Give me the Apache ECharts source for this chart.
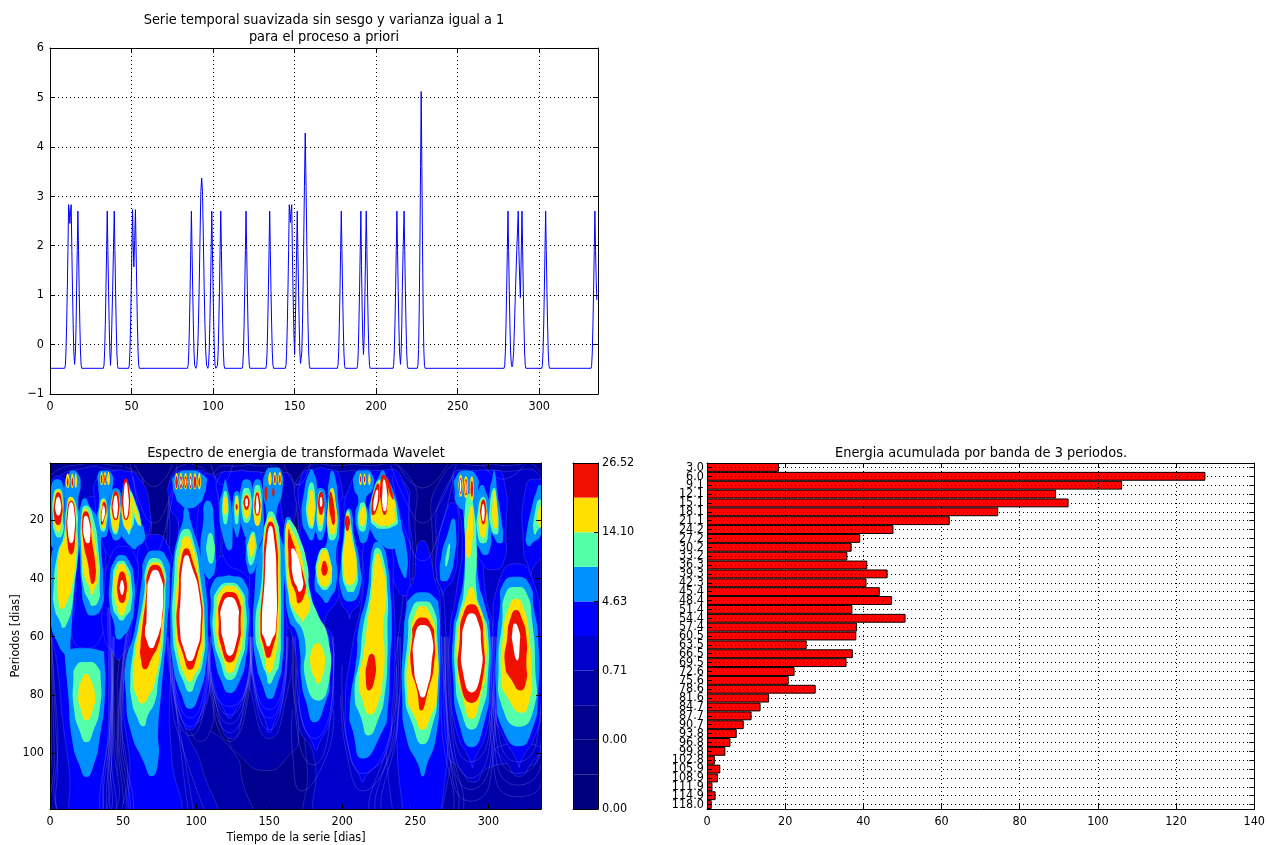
<!DOCTYPE html>
<html><head><meta charset="utf-8">
<style>html,body{margin:0;padding:0;background:#fff}#c{width:1268px;height:845px}</style>
<script src="https://cdn.jsdelivr.net/npm/echarts@6/dist/echarts.min.js"></script>
</head><body><div id="c"></div>
<script>
// ---- Serie temporal: [dia, valor]
const serieTemporal=[[0,-.48],[9,-.48],[9.4,-.42],[9.8,-.15],[10.2,.4],[10.6,1.1],[11,1.9],[11.4,2.83],[11.8,2.7],[12.2,2.45],[12.6,2.7],[13,2.83],[13.4,1.9],[13.8,1.1],[14.2,.4],[14.6,-.15],[15.1,-.4],[15.6,-.15],[16,.4],[16.3,1.1],[16.7,1.9],[17.1,2.7],[17.5,1.9],[17.9,1.1],[18.3,.4],[18.7,-.15],[19.1,-.42],[19.5,-.48],
[32.7,-.48],[33.1,-.42],[33.5,-.15],[33.9,.4],[34.3,1.1],[34.7,1.9],[35.1,2.7],[35.5,1.9],[35.9,1.1],[36.3,.4],[36.7,-.15],[37.1,-.42],[37.5,-.15],[37.9,.4],[38.4,1.1],[38.9,1.9],[39.4,2.7],[39.8,1.9],[40.2,1.1],[40.6,.4],[41,-.15],[41.4,-.42],[41.8,-.48],
[48.2,-.48],[48.6,-.42],[49,-.15],[49.4,.4],[49.8,1.1],[50.2,1.9],[50.6,2.73],[51,2.1],[51.4,1.57],[51.9,2.1],[52.4,2.73],[52.8,1.9],[53.2,1.1],[53.6,.4],[54,-.15],[54.4,-.42],[54.8,-.48],
[84.3,-.48],[84.7,-.42],[85.1,-.15],[85.5,.4],[85.9,1.1],[86.3,1.9],[86.7,2.7],[87.1,1.9],[87.5,1.1],[87.9,.4],[88.3,-.15],[88.7,-.42],[89.4,-.48],[90,-.42],[90.5,-.15],[91,.4],[91.5,1.2],[92,2.2],[92.5,3.1],[93,3.37],[93.5,3.1],[94,2.2],[94.5,1.2],[95,.4],[95.5,-.15],[96,-.42],[96.8,-.48],[97.2,-.42],[97.6,-.15],[98,.4],[98.4,1.1],[98.8,1.9],[99.2,2.7],[99.6,1.9],[100,1.1],[100.4,.4],[100.8,-.15],[101.2,-.42],[101.7,-.48],[102.3,-.48],[102.7,-.42],[103.1,-.15],[103.5,.4],[103.9,1.1],[104.3,1.9],[104.7,2.7],[105.1,1.9],[105.5,1.1],[105.9,.4],[106.3,-.15],[106.7,-.42],[107.1,-.48],
[117.8,-.48],[118.2,-.42],[118.6,-.15],[119,.4],[119.4,1.1],[119.8,1.9],[120.2,2.7],[120.6,1.9],[121,1.1],[121.4,.4],[121.8,-.15],[122.2,-.42],[122.6,-.48],
[132.3,-.48],[132.7,-.42],[133.1,-.15],[133.5,.4],[133.9,1.1],[134.3,1.9],[134.7,2.7],[135.1,1.9],[135.5,1.1],[135.9,.4],[136.3,-.15],[136.7,-.42],[137.1,-.48],
[144.3,-.48],[144.7,-.42],[145.1,-.15],[145.5,.4],[145.9,1.1],[146.3,1.9],[146.7,2.83],[147,2.7],[147.4,2.47],[147.8,2.7],[148.2,2.83],[148.6,1.9],[149,1.1],[149.5,.3],[150,-.2],[150.4,.4],[150.8,1.1],[151.2,1.9],[151.6,2.7],[152,1.9],[152.4,1.1],[152.8,.4],[153.2,-.15],[153.6,-.38],[154,-.4],[154.4,-.15],[154.8,.4],[155.2,1.2],[155.6,2.2],[156,3.2],[156.5,4.28],[157,3.2],[157.4,2.2],[157.8,1.2],[158.2,.4],[158.6,-.15],[159,-.42],[159.4,-.48],
[176.2,-.48],[176.6,-.42],[177,-.15],[177.4,.4],[177.8,1.1],[178.2,1.9],[178.6,2.7],[179,1.9],[179.4,1.1],[179.8,.4],[180.2,-.15],[180.6,-.42],[181,-.48],
[188.2,-.48],[188.6,-.42],[189,-.15],[189.4,.4],[189.8,1.1],[190.2,1.9],[190.6,2.7],[191,1.6],[191.4,.7],[191.8,.1],[192.2,-.2],[192.6,.1],[193,.8],[193.5,1.9],[193.9,2.7],[194.3,1.9],[194.7,1.1],[195.1,.4],[195.5,-.15],[195.9,-.42],[196.3,-.48],
[210.3,-.48],[210.7,-.42],[211.1,-.15],[211.5,.4],[211.9,1.1],[212.3,1.9],[212.7,2.7],[213.1,1.9],[213.5,1.1],[213.9,.4],[214.3,-.15],[214.9,-.4],[215.3,-.15],[215.7,.4],[216,1.1],[216.5,1.9],[217.1,2.7],[217.5,1.9],[217.9,1.1],[218.3,.4],[218.7,-.15],[219.1,-.42],[219.5,-.48],
[225.2,-.48],[225.6,-.42],[226,-.1],[226.4,.7],[226.8,2],[227.2,3.6],[227.6,5.12],[228,3.6],[228.4,2],[228.8,.7],[229.2,-.1],[229.6,-.42],[230,-.48],
[278.4,-.48],[278.8,-.42],[279.2,-.15],[279.6,.4],[280,1.1],[280.4,1.9],[280.8,2.7],[281.2,1.9],[281.6,1.1],[282,.4],[282.4,-.15],[282.9,-.4],[283.3,-.45],[283.7,-.4],[284.3,-.15],[284.8,.4],[285.4,1.1],[286.2,1.9],[287.1,2.7],[287.5,1.9],[288,1.3],[288.4,.95],[288.8,1.6],[289.4,2.7],[289.8,1.9],[290.2,1.1],[290.6,.4],[291,-.15],[291.4,-.42],[291.8,-.48],
[301.5,-.48],[301.9,-.42],[302.3,-.15],[302.7,.4],[303.1,1.1],[303.5,1.9],[303.9,2.7],[304.3,1.9],[304.7,1.1],[305.1,.4],[305.5,-.15],[305.9,-.42],[306.3,-.48],
[331.7,-.48],[332.1,-.42],[332.5,-.15],[332.9,.4],[333.3,1.1],[333.7,1.9],[334.1,2.7],[334.5,1.9],[334.9,1.3],[335.3,.9]];
// ---- Energia acumulada
const periodos=['3.0','6.0','9.1','12.1','15.1','18.1','21.1','24.2','27.2','30.2','33.2','36.3','39.3','42.3','45.4','48.4','51.4','54.4','57.4','60.5','63.5','66.5','69.5','72.6','75.6','78.6','81.6','84.7','87.7','90.7','93.8','96.8','99.8','102.8','105.9','108.9','111.9','114.9','118.0'];
const energia=[18.4,127.5,106.2,89.3,92.5,74.5,62.1,47.7,39.2,37.0,35.9,41.0,46.2,40.8,44.2,47.3,37.2,50.8,38.4,38.2,25.5,37.3,35.7,22.4,20.9,27.8,15.9,13.7,11.4,9.4,7.6,6.0,4.7,2.0,3.4,2.8,1.4,2.2,1.2];
// ---- Colorbar
const coloresBanda=['#00007f','#000084','#00008e','#0000a8','#0000cc','#0000ff','#0090ff','#55ffaa','#ffe000','#f01000'];
const etiquetasBarra=['0.00','0.00','0.71','4.63','14.10','26.52'];
const bandaOscura=[ // indice 3
[[1,20,40],[4,2,60],[8,0,64],[30,0,66],[36,0,45],[60,0,43],[90,0,44],[125,0,44]],
[[28,70,70],[30,50,86],[50,53,88],[70,47,90],[85,46,97],[100,46,126],[108,46,131],[125,47,134]],
[[1,92,98],[4,84,108],[10,82,110],[25,80,112],[45,80,112],[85,85,112],[92,95,110],[96,103,103]],
[[1,135,137],[4,112,160],[20,110,166],[50,108,166],[75,112,166],[95,122,170],[100,128,165],[106,148,148]],
[[1,205,210],[4,172,244],[25,170,250],[45,170,250],[80,172,240],[105,176,232],[125,180,232]],
[[35,255,255],[40,240,272],[125,232,270]],
[[1,300,305],[4,270,336],[30,262,336],[125,272,336]]];
const bandaMedia=[ // indice 4
[[2,25,35],[6,4,58],[12,1,62],[30,0,62],[38,0,42],[60,1,42],[90,5,43],[125,10,41]],
[[29,70,70],[32,54,84],[50,56,86],[70,50,87],[90,49,92],[105,53,104],[125,56,110]],
[[5,96,96],[10,84,108],[25,82,110],[50,80,112],[70,84,110],[85,88,106],[90,97,97]],
[[3,130,132],[6,112,150],[20,110,150],[38,108,140],[60,106,140],[80,112,134],[95,124,124]],
[[3,152,154],[6,140,166],[30,136,166],[60,134,166],[80,138,162],[95,150,150]],
[[3,205,207],[6,172,240],[20,170,246],[40,172,248],[60,170,242],[90,170,240],[100,180,236],[125,188,238]],
[[40,255,255],[45,242,270],[125,236,266]],
[[3,300,306],[6,274,336],[35,264,336],[50,270,336],[100,272,336],[105,280,300],[110,290,290]],
[[98,306,336],[103,312,330],[108,321,321]]];
const bandaAzul=[ // indice 5
[[5,4,6],[8,0,14],[30,0,21],[55,0,40],[70,5,42],[90,9,41],[105,13,37],[125,17,32]],
[[12,30,30],[14,24,36],[30,19,38],[50,17,37],[60,15,35],[64,25,25]],
[[3,45,50],[5,33,60],[15,31,68],[28,36,66],[34,43,60],[37,50,50]],
[[29,50,50],[32,42,58],[45,37,62],[60,37,58],[66,44,50],[68,47,47]],
[[25,71,71],[28,62,80],[40,60,84],[60,55,85],[80,50,82],[100,54,83],[125,60,87]],
[[3,96,96],[5,84,108],[15,82,110],[22,88,104],[40,81,110],[60,80,112],[75,83,110],[88,90,102],[92,96,96]],
[[4,108,108],[8,103,114],[40,102,115],[44,108,108]],
[[32,123,123],[36,112,134],[50,107,138],[65,109,138],[78,113,134],[86,120,126],[88,123,123]],
[[3,130,132],[5,116,146],[15,116,148],[24,118,148],[34,120,146],[38,132,144],[40,138,138]],
[[3,152,153],[8,147,158],[15,142,158],[30,138,163],[60,137,162],[80,141,160],[90,148,153],[93,150,150]],
[[2,185,186],[5,172,198],[25,171,198],[45,162,198],[55,162,188],[60,166,193],[75,170,194],[88,172,192],[97,180,184],[99,182,182]],
[[12,205,205],[14,198,214],[35,197,214],[48,199,212],[52,204,206],[54,205,205]],
[[3,224,224],[5,208,240],[25,206,246],[38,232,246],[44,238,246],[46,243,243]],
[[23,224,224],[25,216,232],[45,214,235],[66,206,236],[85,202,234],[100,205,230],[108,212,216],[110,214,214]],
[[27,255,255],[30,251,259],[37,250,262],[40,249,263],[47,244,267],[125,243,266]],
[[14,276,276],[16,272,279],[30,265,279],[40,265,276],[44,268,270],[46,269,269]],
[[3,285,285],[5,276,294],[25,282,296],[45,278,298],[57,274,303],[75,274,303],[92,278,299],[103,288,290],[105,289,289]],
[[3,302,302],[5,290,310],[25,289,312],[35,296,310],[37,303,303]],
[[35,319,319],[40,308,330],[60,303,336],[85,304,336],[94,310,332],[103,320,322],[105,321,321]],
[[6,333,333],[8,326,338],[30,324,338],[37,328,330],[39,329,329]]];
const lineasContorno=[
[[60,108.5,137],[78,112,134],[84,123,123]],[[60,108,137.5],[80,113,133],[87,123,123]],[[60,107.5,138],[82,113,133],[90,123,123]],[[60,107,138.5],[85,113,133],[93,123,123]],[[60,106.5,139],[88,113,133],[96,123,123]],
[[60,137,162],[80,142,158],[85,150,150]],[[60,136.5,162.5],[82,142,158],[88,150,150]],[[60,136,163],[85,142,158],[92,150,150]],
[[60,81,109.5],[82,88,104],[88,96,96]],[[60,80.5,110],[85,88,104],[91,96,96]],[[60,80,110.5],[88,88,104],[94,96,96]],
[[60,168,193],[85,171,192],[95,181,181]],[[60,167,194],[95,170,190],[104,180,180]],[[85,166,194],[100,166,190],[113,172,172]],
[[80,199,238],[100,203,233],[113,214,214]],[[70,200,237],[95,203,232],[107,214,214]],
[[60,273,303],[95,277,300],[103,288,288]],[[60,272,304],[100,277,300],[108.5,288,288]],[[60,271,305],[104,276,301],[112.5,288,288]],[[60,270,305.5],[110,276,301],[116.5,288,288]],
[[60,303,336],[96,308,333],[103,320,320]],[[60,302.5,337],[100,307,335],[107,320,320]],[[60,302,338],[104,306,336],[111,320,320]],[[60,301.5,338],[109,305,337],[115,320,320]],
[[50,39,57],[90,40,49],[125,36,56]],[[50,40,56],[90,41,48],[125,38,54]],[[50,40.5,55.5],[90,42,47],[125,40,52]],[[50,41,55],[90,43,46.5],[125,42,50]],
[[40,85,85],[80,83,83],[100,92,92],[125,110,110]],[[40,86,86],[75,84,84],[95,90,90],[125,100,100]],[[40,87,87],[70,85,85],[92,88,88],[125,96,96]],
[[1,238,272],[9,255,255]],[[1,233,278],[15,245,266],[21,255,255]],[[5,234,276],[25,244,266],[34,255,255]],
[[1,58,84],[8.6,71,71]],[[1,55,87],[15,62,80],[21,71,71]],[[5,57,86],[25,64,78],[32,71,71]],
[[60,1,43],[100,5,40],[125,9,34]],[[60,.5,43.5],[100,3,41],[125,5,37]],[[60,0,44],[100,1,42],[125,2,40]],
[[60,240,268],[90,238,268],[125,230,272]],[[60,239,269],[90,236,270],[125,226,275]],[[60,238,270],[90,234,272],[125,222,278]],
[[1,110,125],[8,118,118]],[[1,160,178],[8,170,170]],[[1,296,325],[6,310,310]]];
const bandaCeleste=[ // indice 6
[[6,5,5],[8,1,9],[15,.5,10],[28,.5,10],[30,5,5]],
[[3,15,15],[4,13,19],[8,10,21],[13,10.3,19.4],[20,9.6,20.5],[26,6,21],[32,1,19.4],[43,.5,17],[55,.5,15],[62,5,14],[66,10,13]],
[[64,22,22],[65,10,36],[66,10,37],[80,12.5,37.6],[95,15,34],[104,20,30],[108.2,25,25]],
[[12.5,24,24],[15,21,27],[20.5,20,33],[32,20.5,35.3],[43,21.7,36.5],[50,24,35.3],[52.8,28.5,28.5]],
[[32,49,49],[34,44,54],[40,41,57.5],[50,41,57.5],[56,44,55],[60,45,50],[61,47,47]],
[[3,37,37],[4,33,42],[8,33,43],[14,33.5,40],[20,32,40],[25,34,39],[26,36.5,36.5]],
[[9,45,45],[12,41,49],[20,40,49],[25,42,49],[27,45,45]],
[[7,52,52],[12,49,57],[20,48,62],[25,49,65],[27.5,52,64],[29,55,60],[30,58,58]],
[[30.5,72,72],[33,65,80],[40,63,82],[57.7,58,80],[69,52,78],[80,52,76],[92,55,74],[103,64,74],[108,69.5,69.5]],
[[3,95,95],[5,85,106],[8,84,107],[12,86,105],[14,88,103],[16,95,95]],
[[16,92,94],[20,91,96],[25,88,99],[32,85,103],[45,83,107],[57.7,82.5,108],[69,84,107],[80,90,102],[84.8,95.8,95.8]],
[[39,122,123],[41,112,133],[50,110,136],[57.7,110,136],[68,113,134],[75,117,130],[79.4,123,123]],
[[14,106,110],[20,105,112],[30,103,113],[37,105,113],[40,108,110]],
[[6,119.7,120],[10,118,122],[15,116,124],[25,118,125],[30.5,123,123]],
[[10,127.7,127.7],[12,125.5,130],[20,125,130.5],[25,127,129],[26,128,128]],
[[6,134.5,134.5],[8,131,138],[18,130,139],[25,133,136],[26,134.5,134.5]],
[[23,139,139],[25,135,143],[30,134,143],[36,135,141],[38.5,137.5,137.5]],
[[6,142,142],[8,139,145],[15,138,146],[24,138,146],[28,140,144],[29,142,142]],
[[2,153,153],[3,148,158],[10,146,159],[18,148,155],[24,147,157],[32,142.5,160.7],[45,140,160],[57.7,139,160],[69,141,159],[76,145,156],[81.4,150.5,150.5]],
[[19,163,163],[20,161,165],[30,160,172],[44,161,178],[55,164,184],[57.7,168,189],[65,171,191.5],[75,172,191.6],[82,175,189],[89.4,181,181]],
[[3,178,180],[10,174,183],[20,172.5,182.5],[25,176,181],[27,179,179]],
[[9,185,185],[11,182,188.5],[20,181,189],[24,182,188],[27,185,185]],
[[3,193,193],[5,191.5,195],[12,190,197],[25,190,198],[30,188,196],[42,181,196],[47.5,187,191],[48.5,189,189]],
[[16.6,203,206],[25,201,208],[35,199,212],[44,199,212],[48,205,205]],
[[3,214,214],[4,209,220],[9,208,221],[13,211,216],[18,209,218],[25,211,218],[28,214,214]],
[[3,228,228],[5,225,230],[10,221,235],[20,218,240],[25,221,241],[28,226,240],[30,234,234]],
[[11,232,234],[20,233,239],[30,236,244],[39.5,242,244]],
[[27.5,224,224],[29,221,228],[35,219,231],[45,217,233],[57.7,211,234],[66,210,233],[86,205,231],[92,207,228],[101.9,214,214]],
[[44.8,255,255],[47,246,264],[50,244,266],[60,242,267],[80,241,266.5],[95,244,264],[104,252,258],[108,255,255]],
[[19.5,276,276],[25,272,278],[32,268,277],[40,267,273],[41,269,269]],
[[3,285,285],[5,278,292],[10,277,293],[15,279,292],[17,285,287]],
[[10,286,286],[14,283,290],[25,284,292],[40,283,293],[50,279,298],[57.7,276,301],[75,276,301],[90,280,297],[98,288.5,288.5]],
[[8,296,296],[10,293,298],[15,291,301],[25,291,302],[30,294,301],[32,298,298]],
[[3,304,304],[5,303,305],[10,301,306],[20,300,309],[27,305,310],[28,308,308]],
[[39.5,319,319],[42,310,328],[50,308,331],[60,306,334],[80,305.5,334],[92,310,330],[97.7,321,321]],
[[8,335,335],[10,333,338],[15,330,338],[25,326,336],[28,326,330],[29,328,328]]];
const bandaVerde=[ // indice 7
[[68.8,25,25],[70,18,32],[75,16,34.7],[85,16.5,34],[92,20,30],[96.3,25,25]],
[[9.3,5.6,5.6],[11,2.5,8.5],[20,2,9],[24,3,9],[26,6,6]],
[[12,14,14],[15,11.5,18],[25,9.5,19],[32,5,19],[43,2.5,16.5],[50,3,15],[55,7,12],[57,9,9]],
[[15,24.5,24.5],[18,21.5,29],[32,21.5,33.5],[43,23,34],[48,27,33],[49.5,29,29]],
[[34,49,49],[36,44.5,53],[40,43,55.5],[50,43,55.5],[53,46,52],[54.5,49,49]],
[[12.5,36.5,36.5],[15,34,39],[22,34,38.5],[24,36.5,36.5]],
[[10,45,45],[12,42.5,47.5],[20,41.5,47.5],[25,45,45]],
[[8.5,52,52],[12,50,56],[20,49.5,57.5],[24,53,55],[25,54,54]],
[[10,55,55],[16,56,60],[20,58.5,62],[22,61.5,61.5]],
[[33,71.5,71.5],[36,66,78],[45,64.5,79],[57.7,60,78],[65,57,77],[75,55,74],[82,56,72],[87,59,67],[90.8,64,64]],
[[23,93.5,93.5],[27,88,98],[40,85,103],[57.7,84,106],[69,87,104.5],[75,91,100],[79,95.8,95.8]],
[[41.5,123,123],[44,114.5,131],[50,112,134],[60,112,134],[68,116,131],[75,123,123]],
[[24.5,109.8,109.8],[27,107.5,112],[32,107.5,112.5],[35,110.2,110.2]],
[[24,139,139],[27,136,141],[31,135,141],[35.5,137.5,137.5]],
[[10,120,120],[14,118,122],[20,118.5,121.5],[21.5,120,120]],
[[11.5,127.7,127.7],[12.5,126.5,129],[20,126.5,129],[21.5,127.7,127.7]],
[[9,134.5,134.5],[10,132,137],[18,131.5,137.5],[21,134.5,134.5]],
[[8,142,142],[9,140,144],[18,139.5,144.5],[22,142,142]],
[[17,151,151],[20,148,155],[25,146,157],[40,145,158],[57.7,140.5,158],[69,145,157],[73,148,154],[76.2,150,150]],
[[20,163,163],[21,162,166],[25,161,170],[35,161,176],[45,163,178],[52,166,183],[60,174,190],[75,175,191],[82,183.6,183.6]],
[[29.5,187.8,187.8],[33,183,191.5],[40,182.5,193],[43,185,191],[44,188,188]],
[[16.6,204,204],[25,201.5,207],[38,200,210.5],[44,203,208.5],[44.7,205,205]],
[[7,179,179],[12,176,181.5],[20,176,181],[23,179,179]],
[[10,185,185],[15,183,187.5],[22,183,187],[24,185,185]],
[[9,193,193],[14,190.5,195.5],[24,190,196.5],[27,193,193]],
[[14,214,214],[15,212,216],[22,211,216.5],[24,214,214]],
[[6,227.5,227.5],[9,222,233],[20,219.5,238],[22,222,236],[23,226,226]],
[[29.5,224,224],[33,221,228],[45,219,231],[57.7,214,231],[66,212.5,231],[80,208.5,229],[88,213,225],[94,217.8,217.8]],
[[48,255,255],[50,248,262],[60,245,265],[80,243,265],[90,248,262],[97,255,255]],
[[28,273.5,273.5],[31,271.5,273.5],[35,270.5,272],[36,271,271]],
[[11,287,287],[16,284,290],[30,284,292],[45,283,292],[52,280,296],[57.7,277.5,299.5],[75,277.5,299.5],[85,281,296],[92,288.5,288.5]],
[[12,296.5,296.5],[16,293,299],[26,293,299.5],[28,296.5,296.5]],
[[9,304,304],[15,301,306],[23,302,307],[25,305.5,305.5]],
[[43,319.5,319.5],[45,312,326],[55,309.5,330],[70,307,332],[85,310,331],[91,321,321]],
[[13,335,335],[20,331,338],[24,331,333],[25,332,332]]];
const bandaAmarilla=[ // indice 8
[[72.9,25,25],[75,21.5,28],[80,19.4,30.8],[84,20.5,30],[88.7,25,25]],
[[9.7,5.6,5.6],[12,3,8.2],[21,2.8,8],[24,5.8,5.8]],
[[12,14,14],[15,12,17],[25,10.5,18],[32,6,18],[43,5,15],[47,5.5,12.5],[50.5,8,8]],
[[16,24,24],[19,22,27],[32,22,32],[40,24,33],[43,27,31],[45.7,28.5,28.5]],
[[35,49,49],[38,45,53],[44,43.8,54.7],[50,46,52],[52.8,49,49]],
[[13,36.5,36.5],[16,34.5,38.5],[21,35,38],[23,36.5,36.5]],
[[10.5,45,45],[13,42.5,47.5],[20,42,47.5],[24,45,45]],
[[9,52,52],[12,50.5,55],[20,49.8,56.2],[23.5,53.5,53.5]],
[[11,55.5,55.5],[18,58,60],[22,62,62]],
[[34.5,72,72],[37,67,77],[45,65.5,78],[57.7,61,77],[65,58.5,75.5],[75,57,72],[80,59,68],[83,63,63]],
[[25.7,93.5,93.5],[28,90,97],[40,87,102],[57.7,86,105],[69,89,103],[73,92,99],[75.4,95.8,95.8]],
[[42.6,123,123],[45,116,130],[50,114,132],[60,114,132],[67,118,129],[72.5,123,123]],
[[25,139,139],[27,136.5,140],[30,136,140],[32.5,137.5,137.5]],
[[12,120,120],[14,118.5,121.5],[18.3,120,120]],
[[12,127.7,127.7],[14,126.6,129],[17,126.6,129],[18.5,127.7,127.7]],
[[11,134.5,134.5],[13,132.5,136.5],[17,132.5,136.5],[19.5,134.5,134.5]],
[[10,141.8,141.8],[13,139.8,144],[20,139.8,144],[22,141.8,141.8]],
[[19,151,151],[22,148,154],[30,146,156.5],[45,145.5,157],[57.7,143,156.5],[65,146,155],[72.5,150,150]],
[[21,163,163],[22,161.5,164],[30,161.5,171],[45,163.5,176],[50,166,178],[54,172,174],[55,173,173]],
[[62.3,183,183],[65,179,187],[70,178.3,188],[74,181,186],[76.2,183.6,183.6]],
[[9.7,179,179],[14,177,181],[20,177,180.5],[22,179,179]],
[[10.5,185,185],[13,183.5,187],[20,183.6,187],[22,185,185]],
[[9,193,193],[13,191,195],[22,190.5,196],[25,193,193]],
[[30.3,187.8,187.8],[34,184,191.5],[40,183.6,192],[42.9,187.8,187.8]],
[[17.2,203.5,203.5],[25,202,206],[38,201,209.8],[42.3,205,205]],
[[15.5,214,214],[16,213,215.5],[20,211.5,216],[22,213.5,213.5]],
[[6.5,227.5,227.5],[10,222.5,232],[19,220,236.5],[21,223,235],[22,228,228]],
[[6,230,230],[14,234,236],[16,236,236]],
[[31.5,224,224],[35,222,227],[45,220,230],[57.7,216.6,228],[66,214.5,229],[75,211.4,227.6],[82,214,225],[86.8,219,219]],
[[49.5,255,255],[52,250,260],[60,247,264],[80,244.5,265],[88,250,260],[92,255,255]],
[[15,288.5,288.5],[20,286,289.5],[30,284.5,288.5],[33,286.5,286.5]],
[[43,288.5,288.5],[48,284,292],[55,280,297],[70,278.5,298.5],[80,282,295],[88.3,288.5,288.5]],
[[13,296,296],[16,294,298.5],[24,294,298.5],[26,296.5,296.5]],
[[10,304,304],[13,303,305.5],[21,303,306],[23,305,305]],
[[47,319,319],[50,314,324],[60,310,328],[75,309,329.5],[80,312,329],[86.2,323,323]],
[[15,336,336],[20,333.5,338],[22,335,336],[23,336,336]],
[[3.8,86.6,86.6],[6,85.5,87.7],[8,85.5,87.7],[9.5,86.6,86.6]],[[3.8,89.6,89.6],[6,88.5,90.7],[8,88.5,90.7],[9.5,89.6,89.6]],[[3.8,92.8,92.8],[6,91.7,93.9],[8,91.7,93.9],[9.5,92.8,92.8]],[[3.8,96.2,96.2],[6,95.1,97.3],[8,95.1,97.3],[9.5,96.2,96.2]],[[3.8,99.2,99.2],[6,98.1,100.3],[8,98.1,100.3],[9.5,99.2,99.2]],[[3.8,102.2,102.2],[6,101.2,103.2],[8,101.2,103.2],[9.5,102.2,102.2]],
[[4,12.1,12.1],[5.5,11,13.2],[8,11,13.2],[9,12.1,12.1]],[[4,15.3,15.3],[5.5,14.4,16.2],[8,14.4,16.2],[9,15.3,15.3]],[[4,17.6,17.6],[5.5,17,18.4],[8,17,18.4],[9,17.6,17.6]],
[[3.5,35.3,35.3],[5,34.5,36.2],[7,34.5,36.2],[8,35.3,35.3]],[[3.5,37.6,37.6],[5,36.8,38.5],[7,36.8,38.5],[8,37.6,37.6]],[[3.5,40,40],[5,39.2,40.9],[7,39.2,40.9],[8,40,40]],
[[4,212.5,212.5],[5.5,211.6,213.4],[7,211.6,213.4],[8,212.5,212.5]],[[4,215.3,215.3],[5.5,214.4,216.2],[7,214.4,216.2],[8,215.3,215.3]],[[4,218.5,218.5],[5.5,217.8,219.3],[7,217.8,219.3],[8,218.5,218.5]],
[[3.5,150.5,150.5],[5,149.5,151.5],[7,149.5,151.5],[8,150.5,150.5]],[[3.5,153.9,153.9],[5,152.9,154.9],[7,152.9,154.9],[8,153.9,153.9]],[[3.5,157.3,157.3],[5,156.3,158.3],[7,156.3,158.3],[8,157.3,157.3]],
[[4.5,281,281],[6,279.8,282.2],[10,279.8,282.2],[12,281,281]],[[5,284.6,284.6],[6.5,283.4,285.8],[11,283.4,285.8],[12.5,284.6,284.6]],[[5,288.7,288.7],[7,287.6,289.8],[12,287.6,289.8],[13.5,288.7,288.7]]];
const bandaRoja=[ // indice 9
[[10.5,5.6,5.6],[13,3.3,8],[20,3.2,7.8],[21.7,5.6,5.6]],
[[13.4,14.5,14.5],[16,12,17],[28,12,17],[31.8,14.5,14.5]],
[[17,24.5,24.5],[19,22.2,27],[28,23,29],[35,26,31],[40,27.5,31],[42,29,29]],
[[37.7,49.3,49.3],[40,46.8,52],[46,46.5,52],[48.5,49.3,49.3]],
[[13.7,37,37],[16,35.5,38.7],[20,34.8,37],[21.7,35.5,35.5]],
[[10,45,45],[12,43,47],[18,42.7,47],[20,45,45]],
[[5.7,52,52],[9,50,54],[17,49.8,54.3],[20,52,52]],
[[35.4,72,72],[38,67,77],[45,66,78],[57.7,63,76],[63,62,74],[67,62,70],[71.2,65,65]],
[[29.7,93.5,93.5],[33,90,97],[45,88,103],[57.7,87,104],[66,91,101],[71.4,95.8,95.8]],
[[44.7,123,123],[47,117,129],[55,115.5,130.5],[63,117,129],[68.9,123,123]],
[[20.5,151,151],[25,147.5,154.5],[40,146,156],[57.7,144,155],[63,146,153],[67.4,149.3,149.3]],
[[23,163.5,163.5],[25,163,164.5],[30,163,168],[40,164.5,174],[45,168,174.5],[48.6,170,170]],
[[10.3,185.4,185.4],[12.5,183.7,187.3],[16,183.7,187.3],[18.3,185.4,185.4]],
[[10.3,192,192],[14,191,194],[20,192.5,195],[21.7,194,194]],
[[18.5,203.5,203.5],[20,201.8,205.2],[22,202,205],[23.8,203.5,203.5]],
[[34,187.7,187.7],[36,186,189.7],[38,186,189.7],[39.1,187.7,187.7]],
[[7.5,224.5,224.5],[10,222,225.5],[15,220,224.5],[18.3,221,221]],
[[4.5,228,228],[8,226,231],[14,226.5,231],[18.3,229,229]],
[[5,230.5,230.5],[10,232,234],[13,235,235]],
[[65.9,220,220],[68,217.5,222.5],[75,216.2,222],[78.5,218.2,218.2]],
[[53.5,255,255],[56,249,261],[60,248,263],[70,247,262.7],[78,251,259],[85.4,254,254]],
[[48.9,288.5,288.5],[52,283,294],[60,280.5,296.5],[75,280.5,296],[82.8,288.5,288.5]],
[[50.9,319,319],[54,315,323],[60,313,326],[70,311.5,326],[75,316,326],[78.5,322,322]],
[[5.5,281,281],[7,280.2,281.8],[10,280.2,281.8],[11,281,281]],[[6,284.6,284.6],[7.5,283.8,285.4],[10.5,283.8,285.4],[11.5,284.6,284.6]],[[6.5,288.7,288.7],[8,288,289.4],[11,288,289.4],[12,288.7,288.7]],
[[13,296.5,296.5],[15,294.8,298.2],[19,294.8,298.2],[21.5,296.5,296.5]],
[[11.5,134.5,134.5],[13,132.7,136.3],[15,132.7,136.3],[16.6,134.5,134.5]],
[[10.5,141.8,141.8],[13,140.2,143.6],[17,140.2,143.6],[18.5,141.8,141.8]],
[[14.5,127.7,127.7],[15.5,127,128.4],[16.5,127.7,127.7]],
[[8.6,147.7,147.7],[10,146.8,148.7],[13.7,147.7,147.7]],
[[9,152.8,152.8],[10.5,152,153.6],[12,152.8,152.8]],
[[5,86.6,86.6],[6,85.9,87.3],[8,85.9,87.3],[9,86.6,86.6]],[[5,89.6,89.6],[6,88.9,90.3],[8,88.9,90.3],[9,89.6,89.6]],[[5,92.8,92.8],[6,92.1,93.5],[8,92.1,93.5],[9,92.8,92.8]],[[5,96.2,96.2],[6,95.5,96.9],[8,95.5,96.9],[9,96.2,96.2]],[[5,99.2,99.2],[6,98.5,99.9],[8,98.5,99.9],[9,99.2,99.2]],[[5.5,102.2,102.2],[6.5,101.7,102.7],[7.5,101.7,102.7],[8.5,102.2,102.2]],
[[5.5,12.1,12.1],[6.5,11.6,12.6],[7.5,11.6,12.6],[8.5,12.1,12.1]],[[5.5,15.3,15.3],[6.5,14.8,15.8],[7.5,14.8,15.8],[8.5,15.3,15.3]],
[[4.5,35.3,35.3],[5.5,34.9,35.8],[6.5,34.9,35.8],[7.5,35.3,35.3]],[[4.5,37.6,37.6],[5.5,37.2,38.1],[6.5,37.2,38.1],[7.5,37.6,37.6]],
[[4.5,153.9,153.9],[5.5,153.4,154.4],[6.5,153.4,154.4],[7.5,153.9,153.9]],[[4.5,157.3,157.3],[5.5,156.8,157.8],[6.5,156.8,157.8],[7.5,157.3,157.3]],
[[5,212.5,212.5],[6,212,213],[7,212.5,212.5]],[[5,215.3,215.3],[6,214.8,215.8],[7,215.3,215.3]]];
const bandaBlanca=[ // sobre el maximo
[[12,5.6,5.6],[14,3.9,7.3],[17,3.9,7.3],[18.5,5.6,5.6]],
[[13.8,14.5,14.5],[17,12.5,16.6],[25,12.5,16.6],[28,14.5,14.5]],
[[18.5,24.5,24.5],[21,22.8,27],[26,23.5,27.5],[28,26,26]],
[[40.6,49.3,49.3],[42.5,47.9,50.6],[44,47.9,50.6],[45.7,49.3,49.3]],
[[11.5,45,45],[14,43.3,46.3],[17,43.3,46.3],[19.5,45,45]],
[[7,52,52],[11,50.5,53.5],[16,50.5,53.7],[19.5,52,52]],
[[15,36.5,36.5],[17,35.6,37.7],[19.5,35.3,36.8],[20.5,35.8,35.8]],
[[37.1,72,72],[40,68,76],[45,66.5,77.5],[54.8,66,76.4],[57.7,65,75.2],[61,66,73],[64,69.5,69.5]],
[[32,93.5,93.5],[36,90.5,97],[45,89.5,102],[57.7,89,103],[65,92,100],[68.5,95.8,95.8]],
[[46.4,123,123],[49,118,128],[55,117,129],[62,119,127.5],[66.6,123,123]],
[[22,151,151],[27,148.5,153.5],[40,147,155],[57.7,145,154.5],[61,147,152],[63.4,149.3,149.3]],
[[29.7,165.8,165.8],[33,165.3,170],[40,166.5,172.8],[43,169,173],[44.6,170.5,170.5]],
[[56,255,255],[59,250,261],[70,249,261],[78,252,258],[80.9,255,255]],
[[52,288.5,288.5],[55,284,293],[62,282,295],[72,282.5,295],[79.2,288.5,288.5]],
[[55.5,318,318],[58,316.5,321],[62,316.5,321.5],[68.2,319.8,319.8]],
[[9.5,224,224],[12,222,224.5],[16,221.3,223],[17,221.8,221.8]],
[[6,228.5,228.5],[10,227.5,230.5],[15,227.5,230.5],[17,229,229]],
[[14.5,296.5,296.5],[16,295.5,297.3],[19,295.5,297.3],[20.5,296.5,296.5]],
[[12.5,134.5,134.5],[14,133.5,135.5],[15.5,134.5,134.5]],
[[11.5,141.8,141.8],[14,141,142.8],[17,141,142.8],[18,141.8,141.8]],
[[12,185.4,185.4],[14,184.6,186.4],[15.5,185.4,185.4]],
[[6,281,281],[7.5,280.6,281.4],[9.5,280.6,281.4],[10.5,281,281]],[[6.5,284.6,284.6],[8,284.2,285],[10,284.2,285],[11,284.6,284.6]],
[[5.8,89.6,89.6],[6.5,89.2,90],[7.5,89.2,90],[8.2,89.6,89.6]],[[5.8,92.8,92.8],[6.5,92.4,93.2],[7.5,92.4,93.2],[8.2,92.8,92.8]],[[5.8,96.2,96.2],[6.5,95.8,96.6],[7.5,95.8,96.6],[8.2,96.2,96.2]]];

// ---- armado
const FONT='DejaVu Sans Condensed, DejaVu Sans';
const gridsBox=[{left:50,top:48,width:548,height:346},{left:50,top:463,width:491,height:346},{left:707,top:463,width:548,height:346},{left:573,top:463,width:25,height:346}];
const dotted={show:true,lineStyle:{color:'#000',type:[1,3],width:1}};
const lab={color:'#000',fontFamily:FONT,fontSize:12.5,margin:6,hideOverlap:false};
function ax(extra){return Object.assign({axisLine:{show:true,onZero:false,lineStyle:{color:'#000',width:1}},axisTick:{show:true,inside:true,length:5,lineStyle:{color:'#000'}},splitLine:{show:false},axisLabel:lab,z:6},extra);}
function mirror(extra){return Object.assign(ax(extra),{axisLabel:{show:false}});}
const labX=Object.assign({},lab,{showMaxLabel:false});

const capas=[[3,bandaOscura],[4,bandaMedia],[5,bandaAzul],[-1,lineasContorno],[6,bandaCeleste],[7,bandaVerde],[8,bandaAmarilla],[9,bandaRoja],[10,bandaBlanca]];
const regiones=[];capas.forEach(([b,l])=>l.forEach(f=>regiones.push({b,f})));
function colorBanda(b){return b===10?'#fff':coloresBanda[b];}

const xAxis=[
 ax({gridIndex:0,type:'value',min:0,max:336,interval:50,splitLine:dotted,axisLabel:labX}),
 ax({gridIndex:1,type:'value',min:0,max:336,interval:50,axisLabel:labX}),
 ax({gridIndex:2,type:'value',min:0,max:140,interval:20,splitLine:dotted}),
 ax({gridIndex:3,type:'category',data:['e'],axisTick:{show:false},axisLabel:{show:false}}),
 mirror({gridIndex:0,type:'value',min:0,max:336,interval:50,position:'top'}),
 mirror({gridIndex:1,type:'value',min:0,max:336,interval:50,position:'top'}),
 mirror({gridIndex:2,type:'value',min:0,max:140,interval:20,position:'top'}),
 mirror({gridIndex:3,type:'category',data:['e'],position:'top',axisTick:{show:false}})
];
const yAxis=[
 ax({gridIndex:0,type:'value',min:-1,max:6,interval:1,splitLine:dotted,axisLabel:Object.assign({},lab,{formatter:v=>String(v).replace('-','\u2212')})}),
 ax({gridIndex:1,type:'value',inverse:true,min:0.43,max:119.2,axisTick:{show:true,inside:true,length:5,customValues:[20,40,60,80,100],lineStyle:{color:'#000'}},axisLabel:Object.assign({},lab,{customValues:[20,40,60,80,100]})}),
 ax({gridIndex:2,type:'category',inverse:true,data:periodos,boundaryGap:true,axisTick:{show:true,inside:true,length:5,alignWithLabel:true,lineStyle:{color:'#000'}},splitLine:Object.assign({alignWithLabel:true},dotted),axisLabel:Object.assign({},lab,{interval:0,margin:3})}),
 ax({gridIndex:3,type:'value',min:0,max:10,interval:2,position:'right',axisTick:{show:true,inside:true,length:4,lineStyle:{color:'#000'}},axisLabel:Object.assign({},lab,{margin:4,formatter:(v)=>etiquetasBarra[v/2]})}),
 mirror({gridIndex:0,type:'value',min:-1,max:6,interval:1,position:'right'}),
 mirror({gridIndex:1,type:'value',inverse:true,min:0.43,max:119.2,position:'right',axisTick:{show:true,inside:true,length:5,customValues:[20,40,60,80,100],lineStyle:{color:'#000'}}}),
 mirror({gridIndex:2,type:'category',inverse:true,data:periodos,position:'right',axisTick:{show:true,inside:true,length:5,alignWithLabel:true,interval:0,lineStyle:{color:'#000'}}}),
 mirror({gridIndex:3,type:'value',min:0,max:10,interval:2,position:'left',axisTick:{show:false}})
];
const series=[
 {type:'line',xAxisIndex:0,yAxisIndex:0,data:serieTemporal,showSymbol:false,lineStyle:{color:'#0000ff',width:1},itemStyle:{color:'#0000ff'},silent:true,z:3,clip:true},
 {type:'custom',xAxisIndex:1,yAxisIndex:1,clip:true,silent:true,z:2,
  data:regiones.map(()=>[0,1]),
  encode:{x:0,y:1},
  renderItem:function(p,api){
    const r=regiones[p.dataIndex];
    const izq=r.f.map(v=>api.coord([v[1],v[0]]));
    const der=[];
    r.f.slice().reverse().forEach(v=>{if(v[1]!==v[2])der.push(api.coord([v[2],v[0]]));});
    if(r.b<0){
      return {type:'polyline',shape:{points:izq.concat(der),smooth:0.5},style:{fill:null,stroke:'rgba(190,190,255,0.35)',lineWidth:0.6}};
    }
    const low=r.b<=5;
    return {type:'polygon',shape:{points:izq.concat(der),smooth:0.6},
      style:{fill:colorBanda(r.b),stroke:low?'rgba(190,190,255,0.3)':colorBanda(r.b),lineWidth:low?0.6:0}};
  }},
 {type:'bar',xAxisIndex:2,yAxisIndex:2,data:energia,barWidth:'100%',itemStyle:{color:'#ff0000',borderColor:'#000',borderWidth:1},silent:true,z:2},
];
coloresBanda.forEach(c=>series.push({type:'bar',xAxisIndex:3,yAxisIndex:3,stack:'barra',data:[1],barWidth:'100%',itemStyle:{color:c},silent:true,z:2}));

const titulo=(text,cx,top)=>({text,left:cx,top,textAlign:'center',textStyle:{fontFamily:FONT,fontSize:14.4,fontWeight:'normal',color:'#000',lineHeight:17},padding:0});
const chart=echarts.init(document.getElementById('c'),null,{renderer:'canvas'});
chart.setOption({
 animation:false,backgroundColor:'#fff',
 grid:gridsBox.map((g,i)=>Object.assign({containLabel:false,show:true,backgroundColor:i===1?coloresBanda[2]:'transparent',borderWidth:0},g)),
 xAxis,yAxis,series,
 title:[titulo('Serie temporal suavizada sin sesgo y varianza igual a 1\npara el proceso a priori',324,12),
        titulo('Espectro de energia de transformada Wavelet',296,445),
        titulo('Energia acumulada por banda de 3 periodos.',981,445)],
 graphic:[
  {type:'text',x:296,y:838,style:{text:'Tiempo de la serie [dias]',font:'12.5px "DejaVu Sans Condensed","DejaVu Sans"',fill:'#000',align:'center',verticalAlign:'middle'}},
  {type:'text',x:16,y:636,rotation:Math.PI/2,style:{text:'Periodos [dias]',font:'12.5px "DejaVu Sans Condensed","DejaVu Sans"',fill:'#000',align:'center',verticalAlign:'middle'}}
 ]
});
</script></body></html>
